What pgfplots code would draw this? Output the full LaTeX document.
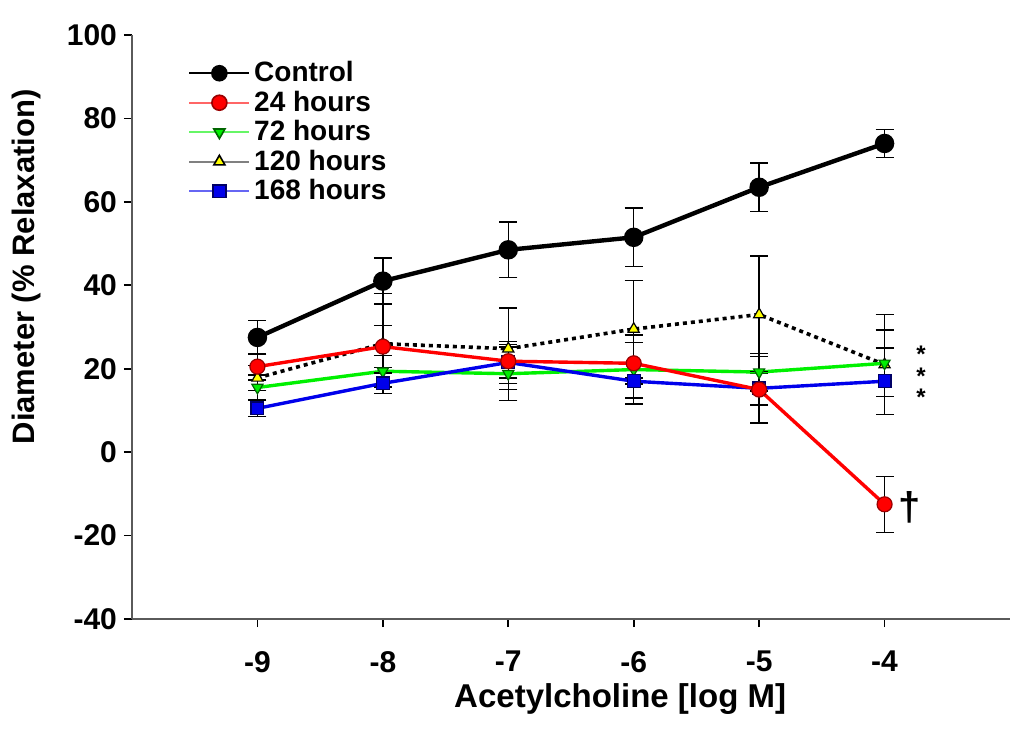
\documentclass[border=0pt]{standalone}
\usepackage{pgfplots}
\pgfplotsset{compat=1.18}
\usepackage{fontspec}
\setmainfont{Liberation Sans}
\usetikzlibrary{calc}

\definecolor{cred}{RGB}{255,0,0}
\definecolor{cgreen}{RGB}{0,240,0}
\definecolor{cyellow}{RGB}{255,255,0}
\definecolor{cblue}{RGB}{0,0,235}
\definecolor{axgray}{RGB}{90,90,90}

\begin{document}
\begin{tikzpicture}
\begin{axis}[
    scale only axis,
    width=439pt, height=292pt,
    xmin=-10, xmax=-3,
    ymin=-40, ymax=100,
    axis x line=bottom, axis y line=left,
    axis line style={-, line width=1.2pt, axgray},
    tick align=outside,
    major tick length=4pt,
    tick style={line width=0.8pt, black},
    xtick={-9,-8,-7,-6,-5,-4},
    xticklabels={-9,-8,-7,-6,-5,-4},
    ytick={-40,-20,0,20,40,60,80,100},
    yticklabels={-40,-20,0,20,40,60,80,100},
    ticklabel style={font=\fontsize{15}{18}\selectfont\bfseries},
    xticklabel style={yshift=-8.5pt},
    xlabel={Acetylcholine [log M]},
    ylabel={Diameter (\% Relaxation)},
    every axis x label/.style={at={(axis description cs:0.556,-0.137)}, anchor=center,
        font=\fontsize{16.5}{19}\selectfont\bfseries},
    every axis y label/.style={at={(axis description cs:-0.12,0.603)}, rotate=90, anchor=center,
        font=\fontsize{15.5}{19}\selectfont\bfseries},
    legend style={at={(axis description cs:0.064,0.962)}, anchor=north west,
        draw=none, fill=none, font=\fontsize{14}{16}\selectfont\bfseries,
        row sep=-0.9pt, inner sep=0pt},
    legend cell align=left,
    legend image code/.code={\draw[mark repeat=2,mark phase=2,#1]
        plot coordinates {(0pt,0pt) (15pt,0pt) (30pt,0pt)};},
    error bars/y dir=both, error bars/y explicit,
    error bars/error bar style={line width=0.7pt, black, solid},
    error bars/error mark options={rotate=90, mark size=4.5pt, line width=0.7pt, black, solid},
  ]
  % legend
  \addlegendimage{black, line width=0.8pt, mark=*, mark size=3.75pt, mark options={fill=black}}
  \addlegendentry{Control}
  \addlegendimage{cred!60, line width=0.8pt, mark=*, mark size=3.75pt, mark options={fill=cred, draw=red!60!black}}
  \addlegendentry{24 hours}
  \addlegendimage{cgreen!60, line width=0.8pt, mark=triangle*, mark size=3.2pt, mark options={rotate=180, fill=cgreen, draw=green!40!black}}
  \addlegendentry{72 hours}
  \addlegendimage{gray, line width=0.8pt, mark=triangle*, mark size=3.2pt, mark options={fill=cyellow, draw=black}}
  \addlegendentry{120 hours}
  \addlegendimage{cblue!60, line width=0.8pt, mark=square*, mark size=3.2pt, mark options={fill=cblue, draw=blue!40!black}}
  \addlegendentry{168 hours}

  % 120 hours (dotted)
  \addplot[forget plot, black, line width=1.8pt, dash pattern=on 2pt off 2pt,
      mark=triangle*, mark size=3.2pt, mark options={solid, fill=cyellow, draw=black, line width=0.6pt}]
    coordinates {(-9,17.8) +- (0,3) (-8,26) +- (0,12) (-7,24.8) +- (0,9.8)
                 (-6,29.5) +- (0,11.7) (-5,33) +- (0,14) (-4,21) +- (0,12)};
  % 72 hours
  \addplot[forget plot, cgreen, line width=1.7pt,
      mark=triangle*, mark size=3.2pt, mark options={rotate=180, fill=cgreen, draw=green!40!black, line width=0.6pt}]
    coordinates {(-9,15.5) +- (0,3) (-8,19.4) +- (0,3.8) (-7,18.8) +- (0,6.4)
                 (-6,19.8) +- (0,8.3) (-5,19.2) +- (0,4.5) (-4,21.3) +- (0,8)};
  % 168 hours
  \addplot[forget plot, cblue, line width=1.7pt,
      mark=square*, mark size=3.2pt, mark options={fill=cblue, draw=blue!40!black, line width=0.6pt}]
    coordinates {(-9,10.5) +- (0,2) (-8,16.5) +- (0,2.5) (-7,21.5) +- (0,5)
                 (-6,17) +- (0,4) (-5,15.3) +- (0,4) (-4,17) +- (0,8)};
  % 24 hours
  \addplot[forget plot, cred, line width=1.7pt,
      mark=*, mark size=3.75pt, mark options={fill=cred, draw=red!60!black, line width=0.6pt}]
    coordinates {(-9,20.5) +- (0,3.2) (-8,25.3) +- (0,5) (-7,21.8) +- (0,4)
                 (-6,21.3) +- (0,5) (-5,15) +- (0,8) (-4,-12.5) +- (0,6.7)};
  % Control
  \addplot[forget plot, black, line width=2.2pt,
      mark=*, mark size=3.75pt, mark options={fill=black}]
    coordinates {(-9,27.5) +- (0,4) (-8,41) +- (0,5.5) (-7,48.5) +- (0,6.7)
                 (-6,51.5) +- (0,7) (-5,63.5) +- (0,5.8) (-4,74) +- (0,3.3)};

  \node[font=\fontsize{12}{12}\selectfont\bfseries, inner sep=0pt] at (axis cs:-3.71,23.5) {*};
  \node[font=\fontsize{12}{12}\selectfont\bfseries, inner sep=0pt] at (axis cs:-3.71,18.3) {*};
  \node[font=\fontsize{12}{12}\selectfont\bfseries, inner sep=0pt] at (axis cs:-3.71,13.1) {*};
  \node[font=\fontsize{20}{22}\selectfont\bfseries] at (axis cs:-3.8,-13.2) {†};
\end{axis}
\pgfresetboundingbox
\path[use as bounding box] ($(current axis.south west)+(-66pt,-66pt)$) rectangle ($(current axis.north east)+(7pt,17.5pt)$);
\end{tikzpicture}
\end{document}
